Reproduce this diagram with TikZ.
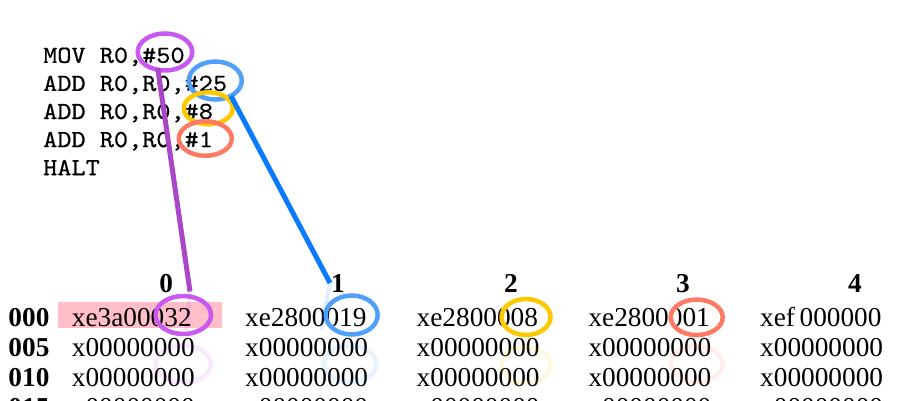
\documentclass[tikz,border=0pt]{standalone}
\usepackage{fontspec}
\setmainfont{Liberation Serif}
\newfontfamily\codefont{lmmono10-regular}[Extension=.otf, FakeStretch=1.1, FakeBold=0.6]
\usetikzlibrary{shapes.geometric}
\definecolor{cpurple}{RGB}{200,90,240}
\definecolor{lpurple}{RGB}{170,70,200}
\definecolor{cblue}{RGB}{80,160,250}
\definecolor{lblue}{RGB}{10,122,255}
\definecolor{cyellow}{RGB}{252,200,0}
\definecolor{cred}{RGB}{255,122,100}
\definecolor{hlpink}{RGB}{255,190,200}
\tikzset{
  codeline/.style={anchor=base west, inner sep=0pt, font=\codefont\fontsize{24.5}{28}\selectfont},
  cell/.style={anchor=base west, inner sep=0pt, font=\fontsize{27.3}{30}\selectfont},
  rowlab/.style={anchor=base west, inner sep=0pt, font=\bfseries\fontsize{27.3}{30}\selectfont},
  colhead/.style={anchor=base, inner sep=0pt, font=\bfseries\fontsize{27.3}{30}\selectfont},
  ring/.style={ellipse, draw, line width=4.5pt, inner sep=0pt},
  ghost/.style={ring, draw opacity=0.12},
  link/.style={line width=5pt},
  ghostlink/.style={line width=4pt, draw opacity=0.12}
}
\begin{document}
\begin{tikzpicture}[x=1pt,y=-1pt]
\useasboundingbox (0,0) rectangle (920,400);
\fill[white] (0,0) rectangle (920,400);

% code
\node[codeline] (c1) at (43,62.8) {MOV R0,\#50};
\node[codeline] (c2) at (43,90.9) {ADD R0,R0,\#25};
\node[codeline] (c3) at (43,119) {ADD R0,R0,\#8};
\node[codeline] (c4) at (43,147.1) {ADD R0,R0,\#1};
\node[codeline] (c5) at (43,175.2) {HALT};

% highlight
\fill[hlpink] (58.3,302.3) rectangle (221.7,328.3);

% column headers
\node[colhead] (h0) at (166.3,292) {0};
\node[colhead] (h1) at (338,292) {1};
\node[colhead] (h2) at (511,292) {2};
\node[colhead] (h3) at (683,292) {3};
\node[colhead] (h4) at (855,292) {4};

% row labels
\node[rowlab] (r0) at (8.3,326.5) {000};
\node[rowlab] (r1) at (8.3,356.5) {005};
\node[rowlab] (r2) at (8.3,386.5) {010};
\node[rowlab] (r3) at (8.3,416.5) {015};

% cells
\foreach \x [count=\i from 0] in {71.7,245,416.5,588.3,760}{
  \node[cell] (a\i) at (\x,356.5) {x00000000};
  \node[cell] (b\i) at (\x,386.5) {x00000000};
  \node[cell] (d\i) at (\x,416.5) {x00000000};
}
\node[cell] (m0) at (71.7,326.5) {xe3a00032};
\node[cell] (m1) at (245,326.5) {xe2800019};
\node[cell] (m2) at (416.5,326.5) {xe2800008};
\node[cell] (m3) at (588.3,326.5) {xe2800001};
\node[cell] (m4) at (760,326.5) {xef\,000000};

% ghost rings
\node[ghost, draw=cpurple, minimum width=55.5pt, minimum height=37pt] (g0) at (183.3,364) {};
\node[ghost, draw=cblue, minimum width=52pt, minimum height=37pt] (g1) at (350,364) {};
\node[ghost, draw=cyellow, minimum width=49pt, minimum height=36pt] (g2) at (526,365) {};
\node[ghost, draw=cred, minimum width=52pt, minimum height=36pt] (g3) at (696.7,364) {};

% code rings
\node[ring, draw=cpurple, minimum width=54.5pt, minimum height=37pt] (pc) at (165,52) {};
\node[ring, draw=cblue, minimum width=53pt, minimum height=38pt] (bc) at (215.3,80.5) {};
\node[ring, draw=cyellow, minimum width=49pt, minimum height=32pt] (yc) at (208.3,108.3) {};
\node[ring, draw=cred, minimum width=53pt, minimum height=34.5pt] (rc) at (205.3,138.5) {};

% table rings
\node[ring, draw=cpurple, minimum width=55.5pt, minimum height=38pt] (pt) at (183.3,315) {};
\node[ring, draw=cblue, minimum width=52pt, minimum height=39pt] (bt) at (351.7,315) {};
\node[ring, draw=cyellow, minimum width=49pt, minimum height=36pt] (yt) at (526,317) {};
\node[ring, draw=cred, minimum width=52pt, minimum height=35.5pt] (rt) at (696.7,317.3) {};

% connectors
\coordinate (p0) at (157.7,68);
\coordinate (p1) at (190,291.5);
\coordinate (q0) at (231,96);
\coordinate (q1) at (330,283);
\coordinate (pg) at (186,330);
\coordinate (qg) at (321,330);
\draw[ghostlink, lpurple] (p1) -- (pg);
\draw[ghostlink, lblue] (q1) -- (qg);
\draw[link, lpurple] (p0) -- (p1);
\draw[link, lblue] (q0) -- (q1);
\end{tikzpicture}
\end{document}
